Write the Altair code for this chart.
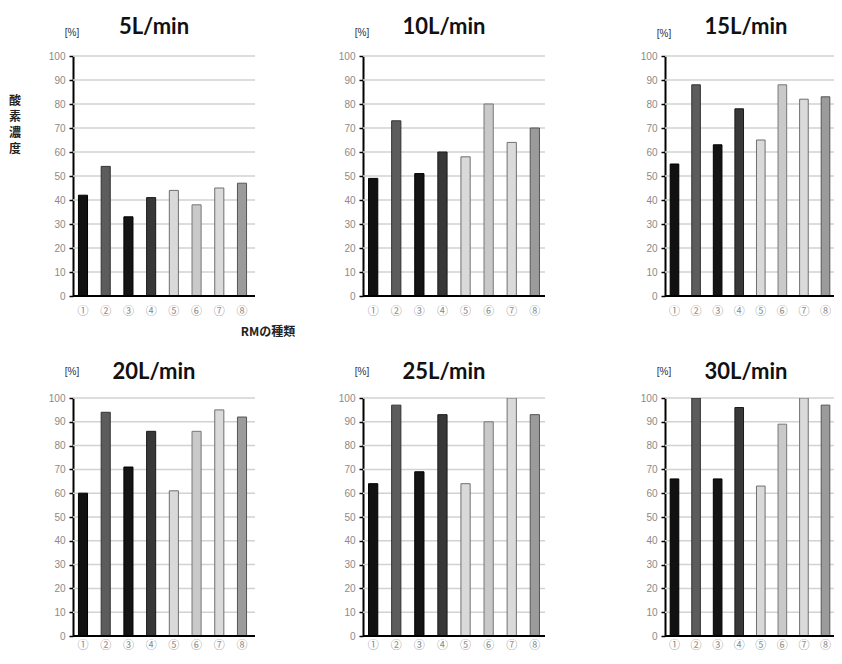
import altair as alt
import pandas as pd

categories = ["①", "②", "③", "④", "⑤", "⑥", "⑦", "⑧"]
flow_labels = ["5L/min", "10L/min", "15L/min", "20L/min", "25L/min", "30L/min"]
o2_5 = [42, 54, 33, 41, 44, 38, 45, 47]
o2_10 = [49, 73, 51, 60, 58, 80, 64, 70]
o2_15 = [55, 88, 63, 78, 65, 88, 82, 83]
o2_20 = [60, 94, 71, 86, 61, 86, 95, 92]
o2_25 = [64, 97, 69, 93, 64, 90, 100, 93]
o2_30 = [66, 100, 66, 96, 63, 89, 100, 97]
y_ticks = [0, 10, 20, 30, 40, 50, 60, 70, 80, 90, 100]
unit_label = "[%]"
y_title = "酸\n素\n濃\n度"
x_title = "RMの種類"

fills = ["#111111", "#5c5c5c", "#141414", "#383838", "#d9d9d9", "#c9c9c9", "#dadada", "#9b9b9b"]
strokes = ["#000000", "#333333", "#000000", "#1a1a1a", "#6f6f6f", "#777777", "#6f6f6f", "#555555"]


def make_panel(values, title, group_w, band_w, line_w, height, text_dy, unit_dy, label_pad, first=False):
    df = pd.DataFrame({"cat": categories, "val": values})
    one = pd.DataFrame({"k": [0]})
    grid_df = pd.DataFrame({"t": y_ticks})

    yscale = alt.Scale(domain=[0, 100], nice=False)
    yaxis = alt.Axis(title=None, values=y_ticks, grid=False, domainColor="#000000",
                     domainWidth=2, tickColor="#000000", tickSize=4, tickWidth=1.5,
                     labelColor="#8a8a8a", labelFont="Liberation Sans", labelOverlap=False,
                     labelSeparation=0, labelFontSize=10, labelPadding=4)
    xscale = alt.Scale(domain=categories, range=[0, band_w], paddingInner=0.6, paddingOuter=0.24)

    grid = alt.Chart(grid_df).mark_rule(color="#d2d2d2", strokeWidth=1.5).encode(
        y=alt.Y("t:Q", scale=yscale, axis=yaxis),
        x=alt.value(0),
        x2=alt.value(line_w),
    )
    bars = alt.Chart(df).mark_bar(clip=True, strokeWidth=1).encode(
        x=alt.X("cat:N", sort=categories, scale=xscale,
                axis=alt.Axis(title=None, labelAngle=0, domain=False, ticks=False,
                              labelColor="#8a8a8a", labelFont="Noto Sans CJK JP",
                              labelFontSize=11, labelPadding=label_pad)),
        y=alt.Y("val:Q", scale=yscale, axis=yaxis),
        color=alt.Color("cat:N", scale=alt.Scale(domain=categories, range=fills), legend=None),
        stroke=alt.Stroke("cat:N", scale=alt.Scale(domain=categories, range=strokes), legend=None),
    )
    base_line = alt.Chart(one).mark_rule(color="#000000", strokeWidth=2).encode(
        y=alt.datum(0), x=alt.value(0), x2=alt.value(line_w)
    )
    title_txt = alt.Chart(one).mark_text(
        text=title, font="Lato", fontSize=22, fontWeight="bold", color="#111111",
        align="center", baseline="middle"
    ).encode(x=alt.value(81), y=alt.value(text_dy))
    unit_txt = alt.Chart(one).mark_text(
        text=unit_label, font="Liberation Sans", fontSize=10, color="#333333",
        align="center", baseline="middle"
    ).encode(x=alt.value(-1), y=alt.value(unit_dy))
    layers = [grid, bars, base_line, title_txt, unit_txt]
    if first:
        ytxt = alt.Chart(one).mark_text(
            text=y_title, lineBreak="\n", font="Noto Sans CJK JP", fontSize=12,
            fontWeight="bold", color="#222222", lineHeight=16,
            align="center", baseline="middle"
        ).encode(x=alt.value(-58), y=alt.value(45))
        xtxt = alt.Chart(one).mark_text(
            text=x_title, font="Noto Sans CJK JP", fontSize=12, fontWeight="bold",
            color="#222222", align="center", baseline="middle"
        ).encode(x=alt.value(195), y=alt.value(height + 36))
        layers += [ytxt, xtxt]
    return alt.layer(*layers).properties(width=group_w, height=height)


p1 = make_panel(o2_5, flow_labels[0], 182, 179, 182, 240, -29, -23, 9, first=True)
p2 = make_panel(o2_10, flow_labels[1], 194, 182, 182, 240, -29, -23, 9)
p3 = make_panel(o2_15, flow_labels[2], 169, 170, 169, 240, -29, -22, 9)
p4 = make_panel(o2_20, flow_labels[3], 182, 179, 182, 238, -26, -26, 3)
p5 = make_panel(o2_25, flow_labels[4], 194, 182, 182, 238, -26, -26, 3)
p6 = make_panel(o2_30, flow_labels[5], 169, 170, 169, 238, -26, -26, 3)

chart = alt.concat(
    p1, p2, p3, p4, p5, p6,
    columns=3,
    spacing={"row": 102, "column": 108},
    bounds="flush",
    align="each",
).properties(
    autosize=alt.AutoSizeParams(type="none"),
    padding={"left": 65, "top": 48, "right": 761, "bottom": 600},
    background="white",
).configure_view(stroke=None).configure_axisY(labelOverlap=False, tickCount=11)

chart.save("out.html", embed_options={"renderer": "svg", "actions": False})
